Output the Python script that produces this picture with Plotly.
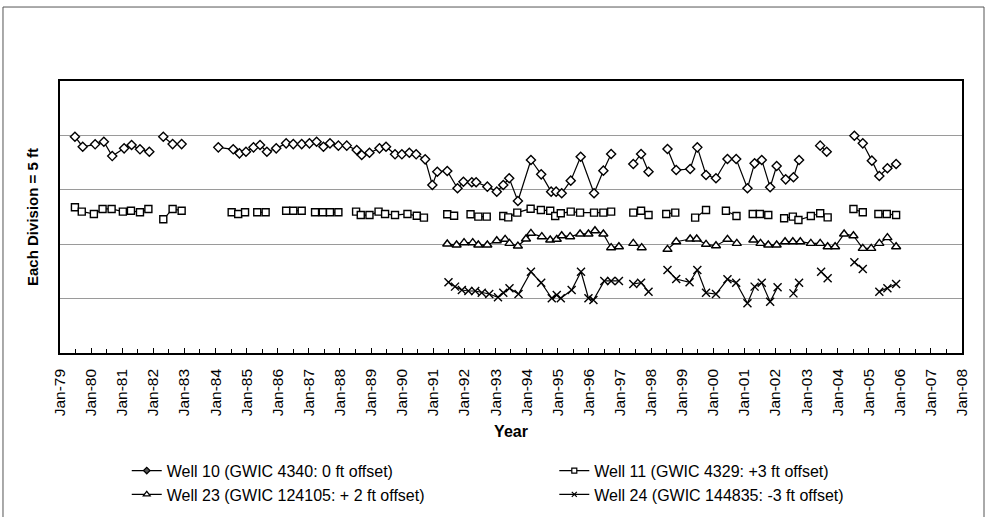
import pandas as pd
import plotly.graph_objects as go

# ---- data (decimal year, relative level in ft; None = gap in record) ----
well10_t = [1979.48, 1979.73, 1980.13, 1980.41, 1980.68, 1981.06, 1981.30, 1981.57, 1981.87, None,
            1982.32, 1982.62, 1982.91, None,
            1984.09, 1984.57, 1984.77, 1984.98, 1985.22, 1985.43, 1985.65, 1985.95, 1986.27, 1986.50,
            1986.77, 1987.02, 1987.25, 1987.47, 1987.68, 1987.95, 1988.22, 1988.54, 1988.70, 1988.95,
            1989.27, 1989.48, 1989.77, 1989.99, 1990.23, 1990.45, 1990.74, 1990.97, 1991.13, 1991.45,
            1991.78, 1991.97, 1992.24, 1992.38, 1992.74, 1993.04, 1993.25, 1993.44, 1993.72, 1994.14,
            1994.47, 1994.79, 1994.95, 1995.13, 1995.42, 1995.74, 1996.17, 1996.47, 1996.72, None,
            1997.43, 1997.68, 1997.92, None,
            1998.53, 1998.81, 1999.26, 1999.49, 1999.77, 2000.09, 2000.46, 2000.74, 2001.10, 2001.33,
            2001.56, 2001.83, 2002.04, 2002.33, 2002.58, 2002.76, None,
            2003.44, 2003.65, None,
            2004.54, 2004.81, 2005.10, 2005.34, 2005.60, 2005.88]
well10_v = [19.88, 18.96, 19.18, 19.42, 18.10, 18.81, 19.12, 18.72, 18.50, None,
            19.88, 19.20, 19.20, None,
            18.90, 18.72, 18.35, 18.50, 18.90, 19.12, 18.50, 18.81, 19.27, 19.20,
            19.20, 19.27, 19.42, 18.96, 19.27, 19.06, 19.06, 18.66, 18.20, 18.41,
            18.81, 18.96, 18.26, 18.26, 18.41, 18.26, 17.80, 15.44, 16.66, 16.73,
            15.14, 15.74, 15.69, 15.69, 15.29, 14.83, 15.44, 16.06, 13.97, 17.74,
            16.42, 14.83, 14.83, 14.68, 15.84, 18.04, 14.68, 16.76, 18.29, None,
            17.37, 18.29, 16.66, None,
            18.75, 16.82, 16.91, 18.90, 16.36, 16.06, 17.83, 17.83, 15.14, 17.43,
            17.74, 15.23, 17.19, 15.96, 16.15, 17.74, None,
            19.06, 18.50, None,
            19.97, 19.27, 17.68, 16.27, 16.98, 17.37]

well11_t = [1979.48, 1979.70, 1980.09, 1980.37, 1980.66, 1981.02, 1981.28, 1981.57, 1981.84, None,
            1982.32, 1982.62, 1982.91, None,
            1984.52, 1984.73, 1984.95, None,
            1985.34, 1985.61, None,
            1986.27, 1986.50, 1986.77, None,
            1987.20, 1987.45, 1987.68, 1987.95, None,
            1988.52, 1988.67, 1988.95, 1989.24, 1989.45, 1989.77, 1990.17, 1990.47, 1990.70, None,
            1991.45, 1991.67, None,
            1992.20, 1992.45, 1992.72, None,
            1993.25, 1993.41, 1993.70, 1994.13, 1994.46, 1994.76, 1994.92, 1995.10, 1995.42, 1995.72,
            1996.17, 1996.47, 1996.72, None,
            1997.43, 1997.68, 1997.92, None,
            1998.49, 1998.78, None,
            1999.42, 1999.77, None,
            2000.41, 2000.75, None,
            2001.27, 2001.50, 2001.77, None,
            2002.28, 2002.56, 2002.74, 2003.14, 2003.44, 2003.68, None,
            2004.51, 2004.81, None,
            2005.31, 2005.58, 2005.88]
well11_v = [13.39, 12.99, 12.78, 13.24, 13.24, 12.99, 13.08, 12.93, 13.24, None,
            12.29, 13.24, 13.08, None,
            12.93, 12.78, 12.93, None,
            12.93, 12.93, None,
            13.08, 13.08, 13.08, None,
            12.93, 12.93, 12.93, 12.93, None,
            12.99, 12.68, 12.68, 12.99, 12.78, 12.68, 12.78, 12.62, 12.44, None,
            12.75, 12.62, None,
            12.75, 12.53, 12.53, None,
            12.59, 12.47, 12.90, 13.26, 13.14, 13.08, 12.59, 12.84, 12.99, 12.90,
            12.90, 12.90, 12.99, None,
            12.90, 13.08, 12.68, None,
            12.78, 12.90, None,
            12.44, 13.14, None,
            13.08, 12.59, None,
            12.78, 12.78, 12.68, None,
            12.38, 12.53, 12.22, 12.59, 12.84, 12.47, None,
            13.24, 12.93, None,
            12.78, 12.78, 12.68]

well23_t = [1991.45, 1991.75, 1991.99, 1992.27, 1992.45, 1992.74, 1993.04, 1993.31, 1993.45, 1993.72,
            1993.98, 1994.14, 1994.49, 1994.76, 1994.97, 1995.13, 1995.40, 1995.72, 1995.99, 1996.20,
            1996.47, 1996.72, 1996.97, None,
            1997.43, 1997.70, None,
            1998.53, 1998.81, 1999.26, 1999.47, 1999.77, 2000.09, 2000.46, 2000.76, None,
            2001.29, 2001.52, 2001.77, 2002.04, 2002.31, 2002.56, 2002.80, 2003.14, 2003.44, 2003.68,
            2003.92, 2004.21, 2004.51, 2004.81, 2005.08, 2005.34, 2005.60, 2005.88]
well23_v = [10.02, 9.93, 10.14, 10.14, 9.93, 9.93, 10.32, 10.45, 10.08, 9.83,
            10.48, 11.00, 10.69, 10.39, 10.45, 10.78, 10.69, 10.94, 10.94, 11.24,
            10.94, 9.68, 9.77, None,
            10.08, 9.68, None,
            9.53, 10.23, 10.48, 10.48, 9.99, 9.86, 10.45, 10.08, None,
            10.39, 10.08, 9.93, 9.93, 10.23, 10.23, 10.23, 10.08, 10.08, 9.77,
            9.77, 10.94, 10.78, 9.62, 9.62, 10.08, 10.60, 9.77]

well24_t = [1991.49, 1991.70, 1991.92, 1992.13, 1992.35, 1992.56, 1992.80, 1993.08, 1993.25, 1993.45,
            1993.74, 1994.14, 1994.47, 1994.81, 1994.97, 1995.10, 1995.45, 1995.75, 1995.99, 1996.15,
            1996.50, 1996.72, 1996.97, None,
            1997.43, 1997.68, 1997.92, None,
            1998.53, 1998.81, 1999.24, 1999.49, 1999.77, 2000.09, 2000.46, 2000.74, 2001.10, 2001.33,
            2001.56, 2001.83, 2002.07, None,
            2002.58, 2002.76, None,
            2003.47, 2003.68, None,
            2004.54, 2004.81, None,
            2005.34, 2005.60, 2005.88]
well24_v = [6.50, 6.10, 5.79, 5.70, 5.70, 5.54, 5.42, 5.12, 5.54, 5.95,
            5.42, 7.47, 6.46, 5.03, 5.33, 5.03, 5.79, 7.47, 5.03, 4.87,
            6.62, 6.62, 6.62, None,
            6.34, 6.46, 5.64, None,
            7.63, 6.80, 6.50, 7.63, 5.54, 5.42, 6.77, 6.46, 4.57, 6.10,
            6.46, 4.72, 6.04, None,
            5.48, 6.46, None,
            7.47, 6.86, None,
            8.34, 7.72, None,
            5.64, 5.95, 6.34]

names = ["Well 10 (GWIC 4340: 0 ft offset)",
         "Well 11 (GWIC 4329: +3 ft offset)",
         "Well 23 (GWIC 124105: + 2 ft offset)",
         "Well 24 (GWIC 144835: -3 ft offset)"]

x_start = "1979-01-01"
x_end = "2008-01-01"
y_min, y_max, y_step = 0, 25, 5
x_title = "Year"
y_title = "Each Division = 5 ft"


def to_dates(ts):
    out = []
    for t in ts:
        if t is None:
            out.append(None)
        else:
            yr = int(t)
            out.append(pd.Timestamp(year=yr, month=1, day=1) + pd.Timedelta(days=(t - yr) * 365.25))
    return out


FONT = "Liberation Sans, Arial, sans-serif"
styles = [
    dict(symbol="diamond", size=7, color="white", line=dict(color="black", width=1.4)),
    dict(symbol="square", size=7, color="white", line=dict(color="black", width=1.4)),
    dict(symbol="triangle-up", size=8, color="white", line=dict(color="black", width=1.4)),
    dict(symbol="x-thin-open", size=8, color="black", line=dict(color="black", width=1.4)),
]
legend_styles = [
    dict(symbol="diamond", size=5, color="#555555", line=dict(color="black", width=1.2)),
    dict(symbol="square", size=5, color="white", line=dict(color="black", width=1.2)),
    dict(symbol="triangle-up", size=6, color="white", line=dict(color="black", width=1.2)),
    dict(symbol="x-thin-open", size=5, color="black", line=dict(color="black", width=1.2)),
]
legend_ids = ["legend", "legend2", "legend", "legend2"]

fig = go.Figure()
series = [(well10_t, well10_v), (well11_t, well11_v), (well23_t, well23_v), (well24_t, well24_v)]
for (t, v), name, mk in zip(series, names, styles):
    assert len(t) == len(v)
    fig.add_trace(go.Scatter(
        x=to_dates(t), y=v, name=name, mode="lines+markers", showlegend=False,
        line=dict(color="black", width=1.2), marker=mk, connectgaps=False,
    ))
# legend entries (small symbols, as in the original)
for name, mk, lg in zip(names, legend_styles, legend_ids):
    fig.add_trace(go.Scatter(
        x=[None], y=[None], name=name, mode="lines+markers", legend=lg,
        line=dict(color="black", width=1.2), marker=mk,
    ))

legend_common = dict(
    orientation="v", yanchor="top", y=-0.37, xanchor="left",
    font=dict(family=FONT, size=16, color="black"),
    bgcolor="rgba(0,0,0,0)", traceorder="normal", borderwidth=0,
)

fig.update_layout(
    template="none",
    width=988, height=517,
    margin=dict(l=60, r=26, t=81, b=164, autoexpand=False),
    paper_bgcolor="white", plot_bgcolor="white",
    font=dict(family=FONT, size=15, color="black"),
    showlegend=True,
    legend=dict(x=0.074, **legend_common),
    legend2=dict(x=0.548, **legend_common),
    xaxis=dict(
        type="date", range=[x_start, x_end], automargin=False,
        tick0=x_start, dtick="M12", tickformat="%b-%y", tickangle=-90,
        ticks="inside", ticklen=5, tickcolor="black", ticklabelstandoff=8,
        minor=dict(dtick="M6", ticks="inside", ticklen=4, tickcolor="black", showgrid=False),
        showline=True, linecolor="black", linewidth=1.5, mirror=True,
        showgrid=False, zeroline=False,
        tickfont=dict(family=FONT, size=15.5, color="black"),
        title=dict(text="<b>" + x_title + "</b>", standoff=10,
                   font=dict(family=FONT, size=16, color="black")),
    ),
    yaxis=dict(
        range=[y_min, y_max], dtick=y_step, tick0=y_min, automargin=False,
        showticklabels=False, ticks="",
        showline=True, linecolor="black", linewidth=1.5, mirror=True,
        showgrid=True, gridcolor="#9a9a9a", gridwidth=1, zeroline=False,
        title=dict(text="<b>" + y_title + "</b>", standoff=16,
                   font=dict(family=FONT, size=15, color="black")),
    ),
    shapes=[dict(type="rect", xref="paper", yref="paper",
                 x0=-0.0632, x1=1.0244, y0=-0.61, y1=1.272,
                 line=dict(color="#555555", width=1), fillcolor="rgba(0,0,0,0)", layer="below")],
)

fig.write_html("out.html")
